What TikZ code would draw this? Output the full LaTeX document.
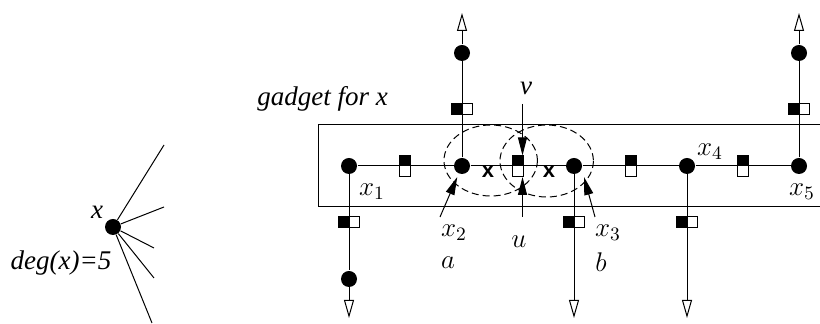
\documentclass[tikz,border=0pt]{standalone}
\usepackage{fix-cm}
\usepackage[no-math]{fontspec}
\setmainfont{Liberation Serif}
\newfontfamily\marksf{Liberation Sans}
\usetikzlibrary{positioning, arrows.meta, calc}

\tikzset{
  dot/.style={circle, fill=black, inner sep=0pt, minimum size=8pt},
  lbl/.style={font=\fontsize{13.5}{16}\selectfont, inner sep=0pt},
  xmark/.style={font=\marksf\bfseries\fontsize{11}{13}\selectfont, inner sep=0pt},
  openhead/.style={-{Triangle[open, length=9pt, width=5pt]}},
  pointer/.style={-{Triangle[length=9pt, width=4.5pt]}},
  ring/.style={dash pattern=on 3.5pt off 2pt}
}

\begin{document}
\begin{tikzpicture}[x=0.5pt, y=-0.5pt, line width=0.5pt]
\useasboundingbox (0,0) rectangle (820,324);
% ---- vertex x of degree 5
    \node[dot] (deg) at (113,227) {};
    \node[lbl] (xname) at (97,212) {\itshape x};
    \node[lbl] (degname) at (61,263) {\itshape deg(x)=5};
    \foreach \i/\x/\y in {1/164/145, 2/164/207, 3/154/248, 4/154/278, 5/152/323} {
        \coordinate (e\i) at (\x,\y);
        \draw (deg) -- (e\i);
    }
% ---- gadget box
    \draw (820,125) -- (318,125) -- (318,207) -- (820,207);
    \node[lbl] (title) at (322.5,99) {\itshape gadget for x};
% ---- path x1 ... x5
    \foreach \i/\x in {1/349, 2/462, 3/574, 4/687, 5/799} \node[dot] (x\i) at (\x,166) {};
    \draw (x1) -- (x2) -- (x3) -- (x4) -- (x5);
    % up edges
    \foreach \i/\x in {2/462, 5/799} {
        \node[dot] (t\i) at (\x,53) {};
        \coordinate (tt\i) at (\x,13);
        \draw (x\i) -- (t\i);
        \draw[openhead] (t\i) -- (tt\i);
    }
    % down edges
    \node[dot] (b1) at (349,279) {};
    \coordinate (bb1) at (349,318);
    \draw (x1) -- (b1);
    \draw[openhead] (b1) -- (bb1);
    \foreach \i/\x in {3/574, 4/687} {
        \coordinate (bb\i) at (\x,318);
        \draw[openhead] (x\i) -- (bb\i);
    }
% ---- half black / half white squares
    \foreach \x/\y in {462/109, 799/109, 349/222, 574/222, 687/222} {
        \filldraw[fill=black] (\x-10.5,\y-5.5) rectangle (\x,\y+5.5);
        \filldraw[fill=white] (\x,\y-5.5) rectangle (\x+10.5,\y+5.5);
    }
    \foreach \x in {405,518,631,743} {
        \filldraw[fill=black] (\x-5.5,155.5) rectangle (\x+5.5,166);
        \filldraw[fill=white] (\x-5.5,166) rectangle (\x+5.5,176.5);
    }
% ---- the two dashed regions and the cut
    \draw[ring] (490.7,160.5) ellipse [x radius=46.7, y radius=35.5];
    \draw[ring] (546.7,161) ellipse [x radius=46.7, y radius=36];
    \node[xmark] (cut1) at (488,172) {x};
    \node[xmark] (cut2) at (549,172) {x};
    \coordinate (vtop) at (522.5,104);
    \coordinate (vend) at (522.5,155.5);
    \coordinate (ubot) at (522.5,217);
    \coordinate (uend) at (522.5,177);
    \draw[pointer] (vtop) -- (vend);
    \draw[pointer] (ubot) -- (uend);
    \node[lbl] (vname) at (526,88) {\itshape v};
    \node[lbl] (uname) at (519,242) {$u$};
% ---- labels
    \node[lbl] (l1) at (372,192) {$x_1$};
    \node[lbl] (l2) at (454,233) {$x_2$};
    \node[lbl] (l3) at (608,233) {$x_3$};
    \node[lbl] (l4) at (710,152) {$x_4$};
    \node[lbl] (l5) at (802,192) {$x_5$};
    \node[lbl] (aname) at (448,263) {$a$};
    \node[lbl] (bname) at (601,262) {$b$};
    \coordinate (px2) at (440,217);
    \coordinate (px3) at (595,217);
    \coordinate (rim3) at (584,177);
    \draw[pointer, shorten >=1.75pt] (px2) -- (x2);
    \draw[pointer] (px3) -- (rim3);
\end{tikzpicture}
\end{document}
